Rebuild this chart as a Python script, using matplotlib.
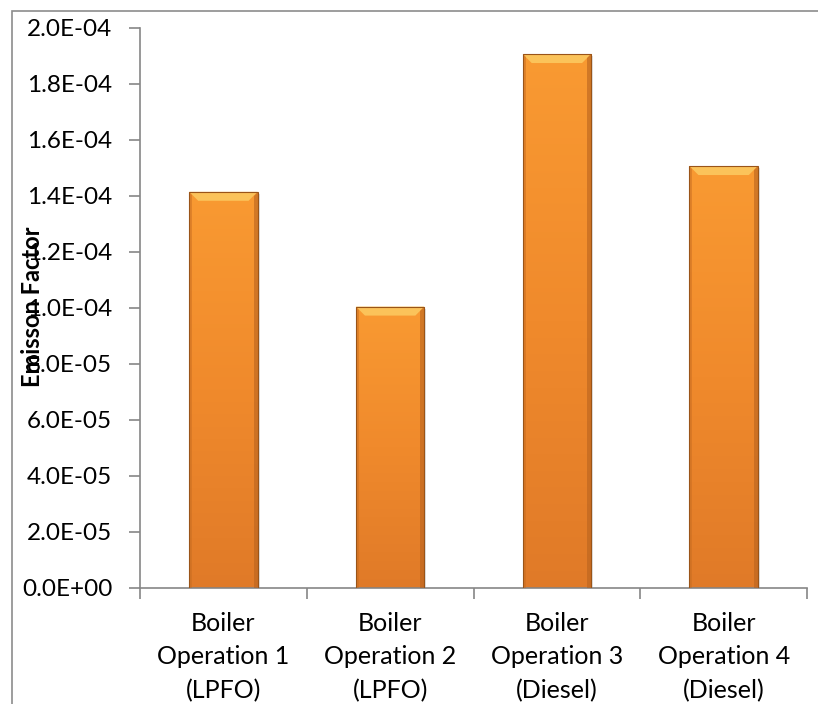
import numpy as np
import matplotlib
matplotlib.use("Agg")
import matplotlib.pyplot as plt
from matplotlib.patches import Rectangle, Polygon
from matplotlib.colors import LinearSegmentedColormap
from matplotlib.ticker import FuncFormatter, MultipleLocator, FixedLocator

# data
categories = ["Boiler\nOperation 1\n(LPFO)", "Boiler\nOperation 2\n(LPFO)",
              "Boiler\nOperation 3\n(Diesel)", "Boiler\nOperation 4\n(Diesel)"]
emission = [1.415e-4, 1.005e-4, 1.907e-4, 1.507e-4]
y_label = "Emisson Factor"

plt.rcParams['font.family'] = ['Lato', 'DejaVu Sans']

fig = plt.figure(figsize=(8.18, 7.04), dpi=100)
ax = fig.add_axes([140 / 818, 1 - 588 / 704, 667 / 818, 560 / 704])

# outer chart frame (left + top only visible)
frame = Rectangle((12 / 818, -0.1), 1.2, 1.1 - 10.7 / 704, transform=fig.transFigure,
                  fill=False, edgecolor="#8c8c8c", linewidth=1.2, zorder=0)
fig.patches.append(frame)

x = np.arange(len(categories))
bars = ax.bar(x, emission, width=0.41, color="none", edgecolor="none", zorder=2)

ax.set_xlim(-0.5, len(categories) - 0.5)
ax.set_ylim(0, 2.0e-4)

# gradient fill with bevelled top, roughly like the Excel style
cmap = LinearSegmentedColormap.from_list("org", ["#e07a28", "#f08a2c", "#f99a32"])
grad = np.linspace(0, 1, 256).reshape(-1, 1)
ypx = 2.0e-4 / 560.0
xpx = 1.0 / 166.7
for b in bars:
    x0, w, h = b.get_x(), b.get_width(), b.get_height()
    im = ax.imshow(grad, extent=[x0, x0 + w, 0, h], origin="lower", cmap=cmap,
                   aspect="auto", zorder=2)
    im.set_clip_path(b)
    # soft shadow
    ax.add_patch(Rectangle((x0 + 2 * xpx, -2 * ypx), w, h, facecolor="#000000",
                           alpha=0.12, edgecolor="none", zorder=1.5))
    # top bevel
    bev = 9
    ax.add_patch(Polygon([[x0, h], [x0 + w, h], [x0 + w - bev * xpx, h - bev * ypx],
                          [x0 + bev * xpx, h - bev * ypx]], closed=True,
                         facecolor="#fbc35a", edgecolor="none", zorder=3))
    # side darkening
    ax.add_patch(Polygon([[x0 + w, h], [x0 + w, 0], [x0 + w - 4 * xpx, 0],
                          [x0 + w - 4 * xpx, h - 4 * ypx]], closed=True,
                         facecolor="#b8631f", alpha=0.6, edgecolor="none", zorder=3))
    ax.add_patch(Polygon([[x0, h], [x0, 0], [x0 + 3 * xpx, 0],
                          [x0 + 3 * xpx, h - 3 * ypx]], closed=True,
                         facecolor="#c86d22", alpha=0.5, edgecolor="none", zorder=3))
    ax.add_patch(Rectangle((x0, 0), w, h, fill=False, edgecolor="#9a5418",
                           linewidth=0.8, zorder=4))

for side in ("top", "right"):
    ax.spines[side].set_visible(False)
for side in ("left", "bottom"):
    ax.spines[side].set_color("#868686")
    ax.spines[side].set_linewidth(1.2)

ax.yaxis.set_major_locator(MultipleLocator(2.0e-5))
ax.yaxis.set_major_formatter(FuncFormatter(lambda v, p: f"{v:.1E}"))
ax.tick_params(axis="y", direction="out", length=8, width=1.2, color="#868686",
               labelsize=17.5, pad=12, labelcolor="black")

ax.set_xticks(x)
ax.set_xticklabels(categories, fontsize=18, linespacing=1.56)
ax.tick_params(axis="x", which="major", length=0, pad=17)
ax.xaxis.set_minor_locator(FixedLocator(np.arange(-0.5, len(categories), 1.0)))
ax.tick_params(axis="x", which="minor", direction="out", length=8, width=1.2,
               color="#868686")

fig.text(33 / 818, 1 - 307 / 704, y_label, rotation=90, ha="center", va="center",
         fontsize=17, fontweight="bold")

fig.savefig("out.png", dpi=100)
